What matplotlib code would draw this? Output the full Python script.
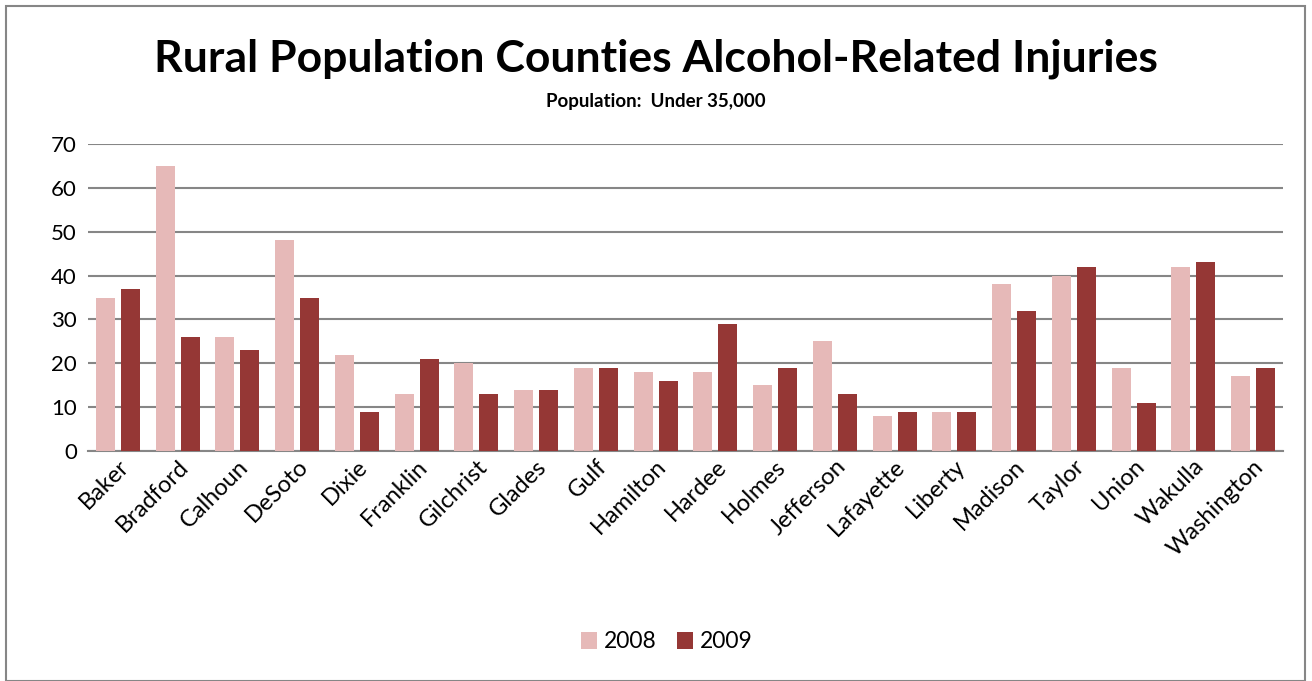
import numpy as np
import matplotlib.pyplot as plt
from matplotlib.patches import Rectangle

plt.rcParams['font.family'] = ['Lato', 'DejaVu Sans']

counties = ['Baker', 'Bradford', 'Calhoun', 'DeSoto', 'Dixie', 'Franklin', 'Gilchrist',
            'Glades', 'Gulf', 'Hamilton', 'Hardee', 'Holmes', 'Jefferson', 'Lafayette',
            'Liberty', 'Madison', 'Taylor', 'Union', 'Wakulla', 'Washington']
y2008 = [35, 65, 26, 48, 22, 13, 20, 14, 19, 18, 18, 15, 25, 8, 9, 38, 40, 19, 42, 17]
y2009 = [37, 26, 23, 35, 9, 21, 13, 14, 19, 16, 29, 19, 13, 9, 9, 32, 42, 11, 43, 19]

fig = plt.figure(figsize=(13.12, 6.81), dpi=100)
ax = fig.add_axes([88/1312, 1-451/681, (1283-88)/1312, (451-144)/681])

x = np.arange(len(counties))
w = 0.32
ax.bar(x - 0.21, y2008, w, color='#E6B9B8', label='2008', zorder=3)
ax.bar(x + 0.21, y2009, w, color='#953735', label='2009', zorder=3)

ax.set_xlim(-0.5, len(counties) - 0.5)
ax.set_ylim(0, 70)
ax.set_yticks(range(0, 71, 10))
ax.yaxis.grid(True, color='#868686', linewidth=1.5, zorder=0)
ax.set_axisbelow(True)
for s in ['top', 'right', 'left']:
    ax.spines[s].set_visible(False)
ax.spines['bottom'].set_color('#868686')
ax.spines['bottom'].set_linewidth(1.5)
ax.tick_params(axis='both', length=0, labelsize=16)
ax.tick_params(axis='y', pad=8)
ax.tick_params(axis='x', labelsize=17)
ax.set_xticks(x)
ax.set_xticklabels(counties, rotation=45, ha='right', rotation_mode='anchor')

fig.text(0.5, 1-59/681, 'Rural Population Counties Alcohol-Related Injuries',
         ha='center', va='center', fontsize=32, fontweight='bold')
fig.text(0.5, 1-101/681, 'Population:  Under 35,000',
         ha='center', va='center', fontsize=13.5, fontweight='bold')

fig.legend(loc='center', bbox_to_anchor=(0.508, 1-642/681), ncol=2, frameon=False,
           fontsize=16.5, handlelength=0.7, handleheight=0.7, columnspacing=0.9,
           handletextpad=0.3)

fig.patches.append(Rectangle((6/1312, 0), 1299/1312, 1-6/681, transform=fig.transFigure,
                             fill=False, edgecolor='#868686', linewidth=1.5))

fig.savefig('out.png', dpi=100)
